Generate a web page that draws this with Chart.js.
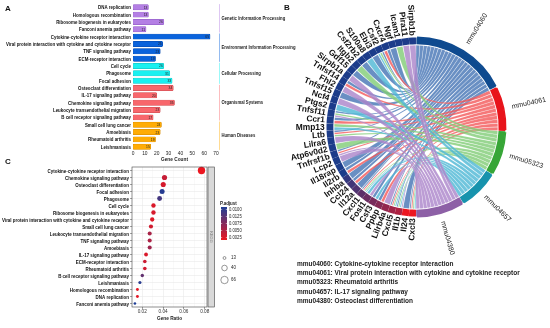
<!DOCTYPE html>
<html>
<head>
<meta charset="utf-8">
<title>KEGG enrichment</title>
<script src="https://cdn.jsdelivr.net/npm/chart.js@4.4.1/dist/chart.umd.min.js"></script>
<style>
  html, body { margin: 0; padding: 0; background: #fff; }
  body { position: relative; width: 550px; height: 328px; overflow: hidden; }
  canvas { position: absolute; }
  .tag { position: absolute; font: bold 8px 'Liberation Sans', Arial, sans-serif; color: #111; }
  .key { position: absolute; left: 297px; font: bold 6.5px 'Liberation Sans', Arial, sans-serif; color: #222; white-space: nowrap; line-height: 8px; }
</style>
</head>
<body>
<canvas id="chart_a" width="300" height="166" style="left:0;top:0"></canvas>
<canvas id="chart_c" width="300" height="168" style="left:0;top:160px"></canvas>
<canvas id="chart_b" width="280" height="262" style="left:276px;top:-4px"></canvas>
<div class="tag" style="left:5px;top:4px">A</div>
<div class="tag" style="left:284px;top:3px">B</div>
<div class="tag" style="left:5px;top:157px">C</div>
<div id="key_b"></div>
<script>
'use strict';
// panel A - gene count per KEGG term
var aTerms = ['DNA replication', 'Homologous recombination', 'Ribosome biogenesis in eukaryotes', 'Fanconi anemia pathway',
  'Cytokine-cytokine receptor interaction', 'Viral protein interaction with cytokine and cytokine receptor', 'TNF signaling pathway', 'ECM-receptor interaction',
  'Cell cycle', 'Phagosome', 'Focal adhesion',
  'Osteoclast differentiation', 'IL-17 signaling pathway', 'Chemokine signaling pathway', 'Leukocyte transendothelial migration', 'B cell receptor signaling pathway',
  'Small cell lung cancer', 'Amoebiasis', 'Rheumatoid arthritis', 'Leishmaniasis'];
var aCounts = [13, 13, 26, 11, 65, 25, 23, 19, 26, 31, 33, 34, 20, 35, 23, 17, 24, 23, 19, 15];
var aClassIndex = [0, 0, 0, 0, 1, 1, 1, 1, 2, 2, 2, 3, 3, 3, 3, 3, 4, 4, 4, 4];
var aClassNames = ['Genetic Information Processing', 'Environment Information Processing', 'Cellular Processing', 'Organismal Systems', 'Human Diseases'];
var aTicks = [0, 10, 20, 30, 40, 50, 60, 70];

// panel C - dot plot
var cTerms = ['Cytokine-cytokine receptor interaction', 'Chemokine signaling pathway', 'Osteoclast differentiation', 'Focal adhesion', 'Phagosome',
  'Cell cycle', 'Ribosome biogenesis in eukaryotes', 'Viral protein interaction with cytokine and cytokine receptor', 'Small cell lung cancer',
  'Leukocyte transendothelial migration', 'TNF signaling pathway', 'Amoebiasis', 'IL-17 signaling pathway', 'ECM-receptor interaction',
  'Rheumatoid arthritis', 'B cell receptor signaling pathway', 'Leishmaniasis', 'Homologous recombination', 'DNA replication', 'Fanconi anemia pathway'];
var cRatio = [0.0769, 0.0414, 0.0402, 0.0391, 0.0367, 0.0308, 0.0308, 0.0296, 0.0284, 0.0272, 0.0272, 0.0272, 0.0237, 0.0225, 0.0225, 0.0201, 0.0178, 0.0154, 0.0154, 0.0130];
var cCount = [65, 35, 34, 33, 31, 26, 26, 25, 24, 23, 23, 23, 20, 19, 19, 17, 15, 13, 13, 11];
var cPadj = [0.0001, 0.0020, 0.0012, 0.0100, 0.0085, 0.0010, 0.0012, 0.0008, 0.0015, 0.0035, 0.0033, 0.0040, 0.0010, 0.0018, 0.0015, 0.0070, 0.0098, 0.0005, 0.0006, 0.0104];
var cRatioTicks = [0.02, 0.03, 0.04, 0.05, 0.06, 0.07, 0.08];
var cRatioLabels = ['0.02', '', '0.04', '', '0.06', '', '0.08'];
var padjLabels = ['0.0100', '0.0125', '0.0075', '0.0050', '0.0025'];
var countBreaks = [13, 40, 66];

// panel B - chord of genes and pathways
var pathIds = ['mmu04060', 'mmu04061', 'mmu05323', 'mmu04657', 'mmu04380'];
var pathNames = ['Cytokine-cytokine receptor interaction', 'Viral protein interaction with cytokine and cytokine receptor',
  'Rheumatoid arthritis', 'IL-17 signaling pathway', 'Osteoclast differentiation'];
var geneNames = ['Cxcl3', 'Il24', 'Il1b', 'Cxcl5', 'Lilrb4a', 'Ppbp', 'Csf3', 'Fosl1', 'Cxcl1', 'Il12a', 'Ccl24', 'Inhba', 'Il2rb',
  'Il18rap', 'Lcp2', 'Tnfrsf1b', 'Atp6v0d2', 'Lilra6', 'Ltb', 'Mmp13', 'Ccr1', 'Tnfsf11', 'Ptgs2', 'Ncf4', 'Tnfsf15', 'Fhl2',
  'Tnfsf14', 'Sirpb1a', 'Gdf15', 'Itgb2', 'Csf2rb2', 'S100a8', 'Ebi3', 'Csf2', 'Cxcr4', 'Ngf', 'Icam1', 'Pira11', 'Sirpb1b'];
var genes04060 = ['Ngf', 'Cxcr4', 'Csf2', 'Ebi3', 'Csf2rb2', 'Gdf15', 'Tnfsf14', 'Tnfsf15', 'Tnfsf11', 'Ccr1', 'Ltb', 'Tnfrsf1b',
  'Il18rap', 'Il2rb', 'Inhba', 'Ccl24', 'Il12a', 'Cxcl1', 'Csf3', 'Ppbp', 'Cxcl5', 'Il1b', 'Il24', 'Cxcl3'];
var genes04061 = ['Cxcr4', 'Tnfsf14', 'Ccr1', 'Ltb', 'Tnfrsf1b', 'Il2rb', 'Ccl24', 'Cxcl1', 'Ppbp', 'Cxcl5', 'Cxcl3'];
var genes05323 = ['Icam1', 'Csf2', 'Itgb2', 'Tnfsf11', 'Mmp13', 'Atp6v0d2', 'Ltb', 'Cxcl1', 'Cxcl5', 'Il1b', 'Cxcl3'];
var genes04657 = ['S100a8', 'Csf2', 'Ptgs2', 'Mmp13', 'Cxcl1', 'Fosl1', 'Csf3', 'Cxcl5', 'Il1b', 'Cxcl3'];
var genes04380 = ['Sirpb1b', 'Pira11', 'Sirpb1a', 'Fhl2', 'Ncf4', 'Tnfsf11', 'Lilra6', 'Tnfrsf1b', 'Lcp2', 'Fosl1', 'Lilrb4a', 'Il1b'];
var pathGenes = [genes04060, genes04061, genes05323, genes04657, genes04380];

// styles
var sans = "'Liberation Sans', Arial, sans-serif";
var classColors = ['#b47fe4', '#0a63dc', '#1af0f0', '#f8676c', '#ffac06'];
var classEdge = ['#8a56c0', '#0647a8', '#10b8b8', '#c84a4e', '#d08600'];
var pathRing = ['#0e4a8f', '#e8141b', '#37a637', '#1793ad', '#8d60a6'];
var pathChord = ['rgba(72,118,182,0.82)', 'rgba(242,86,88,0.8)', 'rgba(128,204,118,0.8)', 'rgba(76,182,212,0.8)', 'rgba(172,134,202,0.82)'];
var redEnd = [236, 22, 32];
var blueEnd = [30, 62, 150];

function mix(c1, c2, t) {
  t = Math.max(0, Math.min(1, t));
  return 'rgb(' + Math.round(c1[0] + (c2[0] - c1[0]) * t) + ',' + Math.round(c1[1] + (c2[1] - c1[1]) * t) + ',' + Math.round(c1[2] + (c2[2] - c1[2]) * t) + ')';
}
var pMin = Math.min.apply(null, cPadj);
var pMax = Math.max.apply(null, cPadj);
function padjColor(p) {
  return mix(redEnd, blueEnd, (p - pMin) / (pMax - pMin));
}
function dotRadius(n) {
  return 1.3 + 2.4 * (Math.sqrt(n) - Math.sqrt(11)) / (Math.sqrt(66) - Math.sqrt(11));
}

// condensed text: no narrow face installed, so squeeze horizontally
function squeezed(ctx, text, x, y, font, sx, align) {
  ctx.save();
  ctx.font = font;
  ctx.translate(x, y);
  ctx.scale(sx, 1);
  ctx.textAlign = align;
  ctx.textBaseline = 'middle';
  ctx.fillText(text, 0, 0);
  ctx.restore();
}
function squeezeFor(ctx, text, font, width) {
  ctx.save();
  ctx.font = font;
  var w = ctx.measureText(text).width;
  ctx.restore();
  return width / w;
}
var termFont = 'bold 6.2px ' + sans;

// ---------- panel A ----------
var aExtras = {
  id: 'aExtras',
  afterDatasetsDraw: function(chart) {
    var ctx = chart.ctx;
    var xs = chart.scales.x, ys = chart.scales.y, area = chart.chartArea;
    var sx = squeezeFor(ctx, aTerms[5], termFont, 125);
    ctx.fillStyle = '#111';
    for (var t = 0; t < aTerms.length; t++) {
      squeezed(ctx, aTerms[t], 131, ys.getPixelForValue(t) + 0.3, termFont, sx, 'right');
    }
    ctx.fillStyle = '#222';
    for (var i = 0; i < aCounts.length; i++) {
      squeezed(ctx, String(aCounts[i]), xs.getPixelForValue(aCounts[i]) - 1, ys.getPixelForValue(i) + 0.3, '4.2px ' + sans, 0.8, 'right');
    }
    // x axis labels
    for (var k = 0; k < aTicks.length; k++) {
      squeezed(ctx, String(aTicks[k]), xs.getPixelForValue(aTicks[k]), area.bottom + 3.2, '5.4px ' + sans, 0.9, 'center');
    }
    squeezed(ctx, 'Gene Count', (area.left + area.right) / 2, area.bottom + 9.2, 'bold 5.6px ' + sans, 0.85, 'center');
    // class brackets and names
    var step = ys.getPixelForValue(1) - ys.getPixelForValue(0);
    var cf = 'bold 6px ' + sans;
    var csx = squeezeFor(ctx, aClassNames[1], cf, 74);
    for (var c = 0; c < aClassNames.length; c++) {
      var first = aClassIndex.indexOf(c), last = aClassIndex.lastIndexOf(c);
      var y0 = ys.getPixelForValue(first) - step / 2, y1 = ys.getPixelForValue(last) + step / 2;
      ctx.save();
      ctx.strokeStyle = classColors[c];
      ctx.globalAlpha = 0.55;
      ctx.lineWidth = 0.8;
      ctx.beginPath();
      ctx.moveTo(219.5, y0 + 0.5);
      ctx.lineTo(219.5, y1 - 0.5);
      ctx.stroke();
      ctx.restore();
      ctx.fillStyle = '#222';
      squeezed(ctx, aClassNames[c], 221.5, (y0 + y1) / 2, cf, csx, 'left');
    }
  }
};

new Chart(document.getElementById('chart_a'), {
  type: 'bar',
  data: {
    labels: aTerms,
    datasets: [{
      data: aCounts,
      backgroundColor: aClassIndex.map(function(c) { return classColors[c]; }),
      borderColor: aClassIndex.map(function(c) { return classEdge[c]; }),
      borderWidth: 0.5,
      borderRadius: 1.2,
      borderSkipped: false,
      barThickness: 5.3
    }]
  },
  options: {
    indexAxis: 'y',
    responsive: false,
    animation: false,
    layout: { padding: { left: 0, right: 84, top: 3.6, bottom: 0 } },
    plugins: { legend: { display: false }, tooltip: { enabled: false } },
    scales: {
      x: {
        min: 0, max: 70,
        ticks: { display: false, stepSize: 10 },
        grid: { display: false },
        border: { display: false },
        afterFit: function(s) { s.height = 15.6; }
      },
      y: {
        ticks: { display: false },
        grid: { display: false },
        border: { display: false },
        afterFit: function(s) { s.width = 133; }
      }
    }
  },
  plugins: [aExtras]
});

// ---------- panel C ----------
var cExtras = {
  id: 'cExtras',
  afterDraw: function(chart) {
    var ctx = chart.ctx;
    var a = chart.chartArea;
    var xs = chart.scales.x, ys = chart.scales.y;
    var sx = squeezeFor(ctx, cTerms[7], termFont, 127);
    ctx.fillStyle = '#111';
    for (var t = 0; t < cTerms.length; t++) {
      squeezed(ctx, cTerms[t], a.left - 3, ys.getPixelForValue(t) + 0.3, termFont, sx, 'right');
    }
    ctx.fillStyle = '#333';
    for (var q = 0; q < cRatioTicks.length; q++) {
      if (cRatioLabels[q]) {
        squeezed(ctx, cRatioLabels[q], xs.getPixelForValue(cRatioTicks[q]), a.bottom + 5, '5.2px ' + sans, 0.9, 'center');
      }
    }
    ctx.fillStyle = '#222';
    squeezed(ctx, 'Gene Ratio', (a.left + a.right) / 2, a.bottom + 11.5, 'bold 5.6px ' + sans, 0.85, 'center');
    ctx.save();
    ctx.strokeStyle = '#444';
    ctx.lineWidth = 0.6;
    ctx.strokeRect(a.left, a.top, a.right - a.left, a.bottom - a.top);
    // facet strip
    ctx.fillStyle = '#d9d9d9';
    ctx.fillRect(a.right + 1, a.top, 6.5, a.bottom - a.top);
    ctx.strokeRect(a.right + 1, a.top, 6.5, a.bottom - a.top);
    ctx.translate(a.right + 4.25, (a.top + a.bottom) / 2);
    ctx.rotate(Math.PI / 2);
    ctx.font = '4px ' + sans;
    ctx.fillStyle = '#777';
    ctx.textAlign = 'center';
    ctx.textBaseline = 'middle';
    ctx.fillText('KEGG', 0, 0);
    ctx.restore();

    // colour bar
    ctx.save();
    var bx = 221, by = 47, bw = 6, bh = 33;
    ctx.fillStyle = '#222';
    squeezed(ctx, 'P.adjust', 220, 43, 'bold 5.6px ' + sans, 0.8, 'left');
    var g = ctx.createLinearGradient(0, by, 0, by + bh);
    g.addColorStop(0, padjColor(pMax));
    g.addColorStop(0.5, padjColor((pMax + pMin) / 2));
    g.addColorStop(1, padjColor(pMin));
    ctx.fillStyle = g;
    ctx.fillRect(bx, by, bw, bh);
    for (var i = 0; i < padjLabels.length; i++) {
      var ty = by + 2.5 + i * (bh - 5) / (padjLabels.length - 1);
      ctx.fillStyle = '#222';
      squeezed(ctx, padjLabels[i], bx + bw + 2, ty, '5.2px ' + sans, 0.8, 'left');
      ctx.strokeStyle = '#fff';
      ctx.lineWidth = 0.5;
      ctx.beginPath();
      ctx.moveTo(bx, ty); ctx.lineTo(bx + 1.2, ty);
      ctx.moveTo(bx + bw - 1.2, ty); ctx.lineTo(bx + bw, ty);
      ctx.stroke();
    }
    // size legend
    var sy = [98, 108, 120];
    for (var k = 0; k < countBreaks.length; k++) {
      ctx.beginPath();
      ctx.arc(224.5, sy[k], dotRadius(countBreaks[k]), 0, Math.PI * 2);
      ctx.strokeStyle = '#333';
      ctx.lineWidth = 0.5;
      ctx.stroke();
      ctx.fillStyle = '#222';
      squeezed(ctx, String(countBreaks[k]), 231, sy[k], '5.2px ' + sans, 0.85, 'left');
    }
    ctx.restore();
  }
};

new Chart(document.getElementById('chart_c'), {
  type: 'bubble',
  data: {
    datasets: [{
      data: cTerms.map(function(t, i) { return { x: cRatio[i], y: t, r: dotRadius(cCount[i]) }; }),
      backgroundColor: cPadj.map(padjColor),
      borderWidth: 0
    }]
  },
  options: {
    responsive: false,
    animation: false,
    layout: { padding: { left: 0, right: 93, top: 7, bottom: 0 } },
    plugins: { legend: { display: false }, tooltip: { enabled: false } },
    scales: {
      x: {
        type: 'linear', min: 0.0102, max: 0.0822,
        afterBuildTicks: function(s) { s.ticks = cRatioTicks.map(function(v) { return { value: v }; }); },
        ticks: { display: false },
        grid: {
          lineWidth: 0.5, tickLength: 2,
          color: function(c) { return c.tick && Math.abs(c.tick.value * 50 - Math.round(c.tick.value * 50)) < 1e-6 ? '#e4e4e4' : '#f2f2f2'; },
          tickColor: function(c) { return c.tick && Math.abs(c.tick.value * 50 - Math.round(c.tick.value * 50)) < 1e-6 ? '#444' : 'rgba(0,0,0,0)'; }
        },
        border: { display: false },
        afterFit: function(s) { s.height = 21; }
      },
      y: {
        type: 'category', labels: cTerms, offset: true,
        ticks: { display: false },
        grid: { color: '#e4e4e4', lineWidth: 0.5, tickLength: 2, tickColor: '#444' },
        border: { display: false },
        afterFit: function(s) { s.width = 132; }
      }
    }
  },
  plugins: [cExtras]
});

// ---------- panel B ----------
var totalLinks = 0;
pathGenes.forEach(function(list) { totalLinks += list.length; });
var geneMember = geneNames.map(function(g) {
  var ps = [];
  for (var p = pathGenes.length - 1; p >= 0; p--) {
    if (pathGenes[p].indexOf(g) >= 0) ps.push(p);
  }
  return ps;
});
function geneTone(i) {
  if (i < 2) return 0;
  if (i < 12) return 0.3 + (i - 2) * 0.065;
  return 1;
}
var ringValues = pathGenes.map(function(l) { return l.length; })
  .concat(geneNames.map(function() { return totalLinks / geneNames.length; }));
var ringColors = pathRing.concat(geneNames.map(function(g, i) { return mix(redEnd, [28, 60, 138], geneTone(i)); }));

var chordPlugin = {
  id: 'chords',
  beforeDatasetsDraw: function(chart) {
    var arcs = chart.getDatasetMeta(0).data;
    var ctx = chart.ctx;
    var cx = arcs[0].x, cy = arcs[0].y, r = arcs[0].innerRadius - 0.3;
    var np = pathIds.length;
    // pathway slot order: genes sorted by ring position, highest first
    var pathOrder = pathGenes.map(function(list) {
      return list.slice().sort(function(a, b) { return geneNames.indexOf(b) - geneNames.indexOf(a); });
    });
    function pt(ang) { return [cx + r * Math.cos(ang), cy + r * Math.sin(ang)]; }
    ctx.save();
    for (var p = 0; p < np; p++) {
      var pa = arcs[p];
      var pw = (pa.endAngle - pa.startAngle) / pathOrder[p].length;
      for (var k = 0; k < pathOrder[p].length; k++) {
        var gi = geneNames.indexOf(pathOrder[p][k]);
        var ga = arcs[np + gi];
        var slots = geneMember[gi];
        var si = slots.indexOf(p);
        var gw = (ga.endAngle - ga.startAngle) / slots.length;
        var a1 = ga.startAngle + si * gw + 0.004, a2 = a1 + gw - 0.008;
        var b1 = pa.startAngle + k * pw + 0.002, b2 = b1 + pw - 0.004;
        var s = pt(a1), e = pt(b1);
        ctx.beginPath();
        ctx.moveTo(s[0], s[1]);
        ctx.arc(cx, cy, r, a1, a2);
        ctx.quadraticCurveTo(cx, cy, e[0], e[1]);
        ctx.arc(cx, cy, r, b1, b2);
        ctx.quadraticCurveTo(cx, cy, s[0], s[1]);
        ctx.closePath();
        ctx.fillStyle = pathChord[p];
        ctx.fill();
        ctx.strokeStyle = 'rgba(255,255,255,0.35)';
        ctx.lineWidth = 0.3;
        ctx.stroke();
      }
    }
    ctx.restore();
  },
  afterDatasetsDraw: function(chart) {
    var arcs = chart.getDatasetMeta(0).data;
    var ctx = chart.ctx;
    var cx = arcs[0].x, cy = arcs[0].y, R = arcs[0].outerRadius;
    var np = pathIds.length;
    ctx.save();
    ctx.textBaseline = 'middle';
    // thicker pathway band
    for (var p = 0; p < np; p++) {
      ctx.beginPath();
      ctx.arc(cx, cy, R + 0.8, arcs[p].startAngle + 0.012, arcs[p].endAngle - 0.012);
      ctx.strokeStyle = pathRing[p];
      ctx.lineWidth = 1.6;
      ctx.stroke();
      var mid = (arcs[p].startAngle + arcs[p].endAngle) / 2;
      ctx.save();
      ctx.translate(cx, cy);
      ctx.rotate(mid);
      ctx.font = '7px ' + sans;
      ctx.fillStyle = '#222';
      ctx.textAlign = 'left';
      ctx.fillText(pathIds[p], R + 9, 0);
      ctx.restore();
    }
    ctx.font = 'bold 8.4px ' + sans;
    ctx.fillStyle = '#111';
    ctx.textAlign = 'right';
    for (var i = 0; i < geneNames.length; i++) {
      var a = arcs[np + i];
      var m = (a.startAngle + a.endAngle) / 2;
      ctx.save();
      ctx.translate(cx, cy);
      ctx.rotate(m + Math.PI);
      ctx.fillText(geneNames[i], -(R + 2.5), 0.5);
      ctx.restore();
    }
    ctx.restore();
  }
};

new Chart(document.getElementById('chart_b'), {
  type: 'doughnut',
  data: {
    labels: pathIds.concat(geneNames),
    datasets: [{
      data: ringValues,
      backgroundColor: ringColors,
      borderWidth: 0,
      spacing: 1.3
    }]
  },
  options: {
    responsive: false,
    animation: false,
    cutout: 82,
    layout: { padding: { left: 50.5, right: 50.5, top: 41.5, bottom: 41.5 } },
    plugins: { legend: { display: false }, tooltip: { enabled: false } }
  },
  plugins: [chordPlugin]
});

// pathway key under the chord
var keyBox = document.getElementById('key_b');
for (var j = 0; j < pathIds.length; j++) {
  var line = document.createElement('div');
  line.className = 'key';
  line.style.top = (260 + j * 9.2) + 'px';
  line.textContent = pathIds[j] + ': ' + pathNames[j];
  keyBox.appendChild(line);
}
</script>
</body>
</html>
